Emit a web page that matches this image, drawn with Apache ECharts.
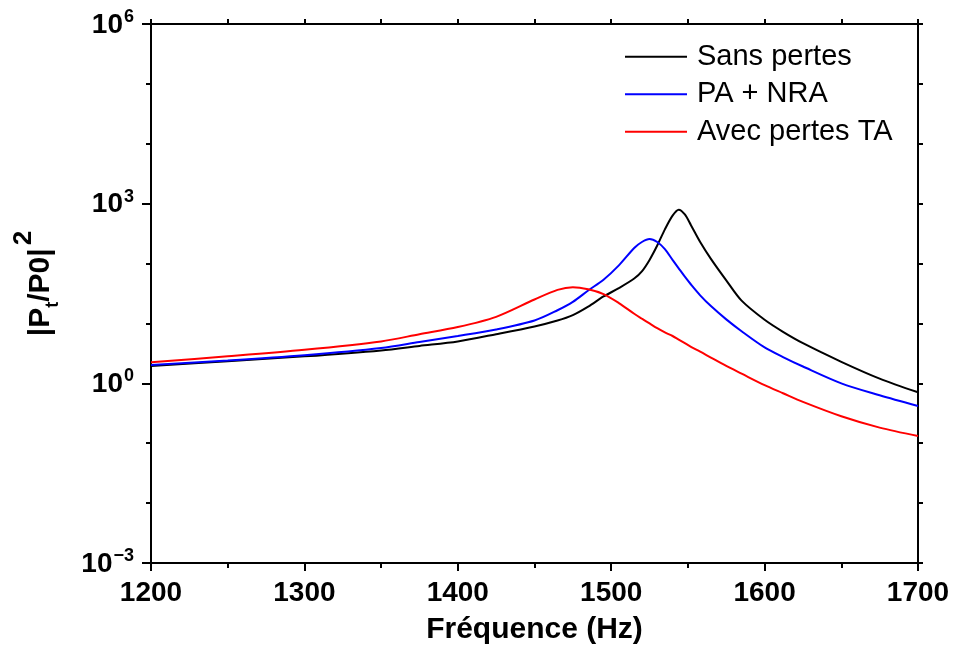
<!DOCTYPE html>
<html>
<head>
<meta charset="utf-8">
<script src="https://cdn.jsdelivr.net/npm/echarts@6/dist/echarts.min.js"></script>
<style>
  html, body { margin: 0; padding: 0; background: #fff; }
  #chart { width: 954px; height: 647px; }
</style>
</head>
<body>
<div id="chart"></div>
<script>
// fréquences (Hz)
var freq = [1200, 1250, 1300, 1350, 1375, 1400, 1425, 1450, 1465, 1475, 1485, 1495, 1505, 1515, 1520,
  1525, 1530, 1535, 1540, 1544, 1548, 1552, 1558, 1565, 1575, 1585, 1600, 1612, 1625, 1650, 1675, 1700];

// |Pt/P0|^2
var sansPertes = [1.95, 2.34, 2.82, 3.55, 4.22, 5.01, 6.61, 8.91, 11.2, 13.8, 19.1, 28.2, 38.9, 56.2, 74.1,
  115, 200, 372, 631, 794, 661, 437, 229, 120, 52.5, 24.0, 11.5, 7.24, 4.68, 2.29, 1.20, 0.708];
var paNra = [2.02, 2.40, 2.95, 3.89, 4.90, 6.17, 7.94, 11.2, 16.6, 22.9, 35.5, 53.7, 93.3, 182, 229,
  257, 229, 174, 115, 83.2, 60.3, 44.7, 29.5, 19.5, 11.7, 7.41, 3.98, 2.75, 1.91, 1.00, 0.631, 0.417];
var avecPertesTA = [2.24, 2.82, 3.63, 5.01, 6.61, 8.71, 12.9, 25.1, 36.3, 40.3, 37.2, 30.9, 21.9, 14.5, 12.0,
  10.0, 8.32, 7.08, 6.17, 5.37, 4.68, 4.07, 3.39, 2.69, 1.95, 1.45, 0.933, 0.684, 0.490, 0.282, 0.182, 0.132];

var names = ['Sans pertes', 'PA + NRA', 'Avec pertes TA'];
var colors = ['#000000', '#0000ff', '#ff0000'];

function pairs(vals) {
  return freq.map(function (f, i) { return [f, vals[i]]; });
}

var font = '"Liberation Sans", Arial, sans-serif';
var chart = echarts.init(document.getElementById('chart'));

var axisLine = { show: true, lineStyle: { color: '#000', width: 2 } };

var option = {
  animation: false,
  backgroundColor: '#fff',
  textStyle: { fontFamily: font },
  grid: { left: 151, top: 24, right: 36, bottom: 84, outerBoundsMode: 'none' },
  legend: {
    orient: 'vertical',
    left: 620,
    top: 33,
    itemWidth: 62,
    itemHeight: 2,
    itemGap: 0,
    icon: 'rect',
    textStyle: { fontSize: 29, color: '#000', lineHeight: 37.5, fontFamily: font, padding: [0, 0, 0, 5] },
    data: names
  },
  xAxis: [{
    type: 'value',
    position: 'bottom',
    min: 1200, max: 1700, interval: 100,
    name: 'Fréquence (Hz)',
    nameLocation: 'middle',
    nameGap: 52,
    nameTextStyle: { fontSize: 30, fontWeight: 'bold', color: '#000' },
    axisLine: axisLine,
    axisTick: { inside: false, length: 8, lineStyle: { color: '#000', width: 2 } },
    minorTick: { show: true, splitNumber: 2, length: 5, lineStyle: { color: '#000', width: 2 } },
    splitLine: { show: false },
    axisLabel: {
      fontSize: 28, fontWeight: 'bold', color: '#000', margin: 16,
      formatter: function (v) { return String(v); }
    }
  }, {
    type: 'value',
    position: 'top',
    min: 1200, max: 1700, interval: 50,
    axisLine: axisLine,
    axisTick: { inside: false, length: 5, lineStyle: { color: '#000', width: 2 } },
    splitLine: { show: false },
    axisLabel: { show: false }
  }],
  yAxis: [{
    type: 'log',
    logBase: 10,
    position: 'left',
    min: 0.001, max: 1e6, interval: 3,
    name: '{m||P}{sub|t}{m|/P0|}{sup|2}',
    nameLocation: 'middle',
    nameRotate: 90,
    nameGap: 95,
    nameTextStyle: {
      padding: [0, 0, 0, 20],
      rich: {
        m: { fontSize: 30, fontWeight: 'bold', color: '#000', fontFamily: font, verticalAlign: 'bottom', lineHeight: 40 },
        sub: { fontSize: 18, fontWeight: 'bold', color: '#000', fontFamily: font, verticalAlign: 'bottom', lineHeight: 40, padding: [0, 0, -6, 0] },
        sup: { fontSize: 26, fontWeight: 'bold', color: '#000', fontFamily: font, verticalAlign: 'bottom', lineHeight: 40, padding: [0, 0, 19, 3] }
      }
    },
    axisLine: axisLine,
    axisTick: { inside: false, length: 9, lineStyle: { color: '#000', width: 2 } },
    splitLine: { show: false },
    axisLabel: {
      margin: 17,
      formatter: function (v) {
        var e = Math.round(Math.log10(v));
        return '{b|10}{s|' + (e < 0 ? '\u2212' + (-e) : e) + '}';
      },
      rich: {
        b: { fontSize: 28, fontWeight: 'bold', color: '#000', fontFamily: font, verticalAlign: 'bottom', lineHeight: 30 },
        s: { fontSize: 18, fontWeight: 'bold', color: '#000', fontFamily: font, verticalAlign: 'bottom', lineHeight: 30, padding: [0, 0, 13, 1] }
      }
    }
  }, {
    type: 'log',
    logBase: 10,
    position: 'left',
    min: 0.001, max: 1e6, interval: 1,
    axisLine: { show: false },
    axisTick: { inside: false, length: 5, lineStyle: { color: '#000', width: 2 } },
    splitLine: { show: false },
    axisLabel: { show: false }
  }, {
    type: 'log',
    logBase: 10,
    position: 'right',
    min: 0.001, max: 1e6, interval: 1,
    axisLine: axisLine,
    axisTick: { inside: false, length: 5, lineStyle: { color: '#000', width: 2 } },
    splitLine: { show: false },
    axisLabel: { show: false }
  }],
  series: [sansPertes, paNra, avecPertesTA].map(function (vals, i) {
    return {
      name: names[i],
      type: 'line',
      xAxisIndex: 0,
      yAxisIndex: 0,
      data: pairs(vals),
      showSymbol: false,
      symbol: 'none',
      smooth: 0.3,
      color: colors[i],
      lineStyle: { color: colors[i], width: 2 }
    };
  })
};

chart.setOption(option);
</script>
</body>
</html>
